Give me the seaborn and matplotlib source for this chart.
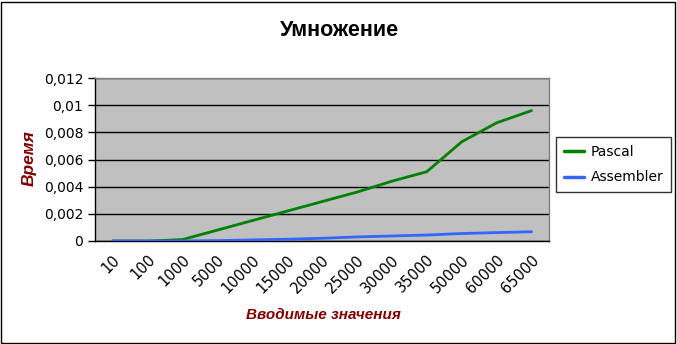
import matplotlib
matplotlib.use("Agg")
import matplotlib.pyplot as plt
import seaborn as sns
import pandas as pd
import numpy as np
from matplotlib.patches import Rectangle
from matplotlib.lines import Line2D

categories = ["10", "100", "1000", "5000", "10000", "15000", "20000", "25000",
              "30000", "35000", "50000", "60000", "65000"]
pascal = [0.0, 0.0, 0.0001, 0.0008, 0.0015, 0.0022, 0.0029, 0.0036,
          0.0044, 0.0051, 0.0073, 0.0087, 0.0096]
assembler = [0.0, 0.0, 0.0, 0.00003, 0.00008, 0.00013, 0.0002, 0.0003,
             0.00037, 0.00044, 0.00055, 0.00062, 0.00068]
y_ticks = [0, 0.002, 0.004, 0.006, 0.008, 0.01, 0.012]
y_tick_labels = ["0", "0,002", "0,004", "0,006", "0,008", "0,01", "0,012"]
title = "Умножение"
x_label = "Вводимые значения"
y_label = "Время"

sns.set_style("white")
plt.rcParams["font.family"] = ["DejaVu Sans"]
plt.rcParams["text.color"] = "black"
plt.rcParams["xtick.color"] = "black"
plt.rcParams["ytick.color"] = "black"

df = pd.DataFrame({
    "idx": list(range(len(categories))) * 2,
    "value": pascal + assembler,
    "series": ["Pascal"] * len(categories) + ["Assembler"] * len(categories),
})

fig = plt.figure(figsize=(6.77, 3.44), dpi=100)
fig.patch.set_facecolor("white")
ax = fig.add_axes([95 / 677, 1 - 241 / 344, (549 - 95) / 677, (241 - 78) / 344])
ax.set_facecolor("#C0C0C0")

sns.lineplot(data=df, x="idx", y="value", hue="series",
             palette={"Pascal": "#008000", "Assembler": "#3366FF"},
             linewidth=2, ax=ax, legend=False, zorder=3)

ax.set_xlim(-0.5, len(categories) - 0.5)
ax.set_ylim(0, 0.012)
ax.set_yticks(y_ticks)
ax.set_yticklabels(y_tick_labels, fontsize=10, color="black")
ax.yaxis.grid(True, color="black", linewidth=1)
ax.set_axisbelow(True)

ax.set_xticks(range(len(categories)))
ax.set_xticklabels(categories, rotation=45, ha="right", rotation_mode="anchor",
                   fontsize=10.5, color="black")
ax.tick_params(axis="x", which="major", length=0, pad=8)
ax.set_xticks(np.arange(-0.5, len(categories), 1.0), minor=True)
ax.tick_params(axis="x", which="minor", length=5, width=1, color="black", direction="out")
ax.tick_params(axis="y", length=5, width=1, color="black", direction="out", left=True)

for side in ["top", "right"]:
    ax.spines[side].set_visible(True)
    ax.spines[side].set_color("#808080")
    ax.spines[side].set_linewidth(1)
for side in ["left", "bottom"]:
    ax.spines[side].set_color("black")
    ax.spines[side].set_linewidth(1)

ax.set_xlabel("")
ax.set_ylabel("")

fig.text(340 / 677, 1 - 30 / 344, title, ha="center", va="center",
         fontsize=15.5, fontweight="bold", family="Liberation Sans", color="black")
fig.text(323 / 677, 1 - 315 / 344, x_label, ha="center", va="center",
         fontsize=11, fontweight="bold", style="italic", color="#800000",
         family="Liberation Sans")
fig.text(29 / 677, 1 - 158 / 344, y_label, ha="center", va="center",
         fontsize=12.5, fontweight="bold", style="italic", color="#800000",
         rotation=90, family="Liberation Sans")

handles = [Line2D([], [], color="#008000", lw=2.5), Line2D([], [], color="#3366FF", lw=2.5)]
leg = fig.legend(handles, ["Pascal", "Assembler"], loc="upper left",
                 bbox_to_anchor=(556 / 677, 1 - 137 / 344), frameon=True,
                 fancybox=False, edgecolor="black", fontsize=10,
                 handlelength=1.5, handletextpad=0.45, borderpad=0.55,
                 labelspacing=0.85, borderaxespad=0)
leg.get_frame().set_linewidth(1)
for t in leg.get_texts():
    t.set_color("black")

fig.add_artist(Rectangle((1 / 677, 1 / 344), 674 / 677, 341 / 344,
                         transform=fig.transFigure, fill=False,
                         edgecolor="black", linewidth=1))

fig.savefig("out.png", dpi=100)
